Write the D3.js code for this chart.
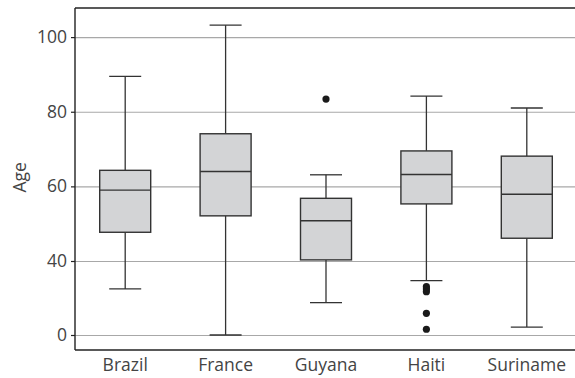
<!DOCTYPE html>
<html>
<head>
<meta charset="utf-8">
<script src="https://cdn.jsdelivr.net/npm/d3@7"></script>
<style>
  body { margin: 0; background: #fff; }
  svg { display: block; }
  svg text { font-family: "Open Sans", "Noto Sans", sans-serif; }
</style>
</head>
<body>
<script>
// box summary
const countries = ["Brazil", "France", "Guyana", "Haiti", "Suriname"];
const whiskerLow = [24.9, 0, 17.5, 29.4, 4.3];
const boxLow = [47.7, 52.1, 40.3, 55.3, 46.1];
const medians = [59.0, 64.0, 50.8, 63.2, 57.9];
const boxHigh = [64.3, 74.1, 56.8, 69.5, 68.1];
const whiskerHigh = [89.5, 103.2, 63.1, 84.2, 81.0];
const outliers = [[], [], [83.4], [26.1, 24.8, 23.4, 11.7, 3.1], []];
const yTicks = [0, 40, 60, 80, 100];

const W = 575, H = 378;
const margin = {top: 8, right: -2, bottom: 28, left: 75};
const width = W - margin.left - margin.right,
  height = H - margin.top - margin.bottom;

const svg = d3.select("body").append("svg")
  .attr("width", W)
  .attr("height", H);
const g = svg.append("g")
  .attr("transform", "translate(" + margin.left + "," + margin.top + ")");

let x = d3.scaleBand().domain(countries).range([0, width]);
// axis in the reference is not linear below 40, so use a two-piece scale
let y = d3.scaleLinear().domain([0, 40, 107.8]).range([327, 253, 0]);

// grid lines
g.append("g")
  .attr("class", "grid")
  .call(d3.axisLeft(y).tickValues(yTicks).tickSize(-width).tickFormat(""))
  .call(s => s.select(".domain").remove())
  .selectAll("line")
  .attr("stroke", "#a8a8a8")
  .attr("stroke-width", 1.2);

// frame lines: top and bottom
g.append("line").attr("x1", 0).attr("x2", width).attr("y1", 0).attr("y2", 0)
  .attr("stroke", "#222").attr("stroke-width", 1.4);
g.append("line").attr("x1", 0).attr("x2", width).attr("y1", height).attr("y2", height)
  .attr("stroke", "#222").attr("stroke-width", 1.4);

// y axis
let yAxis = g.append("g")
  .call(d3.axisLeft(y).tickValues(yTicks).tickSize(4).tickPadding(4).tickSizeOuter(0))
  .attr("font-family", null);
yAxis.select(".domain").attr("d", "M0,0V" + height).attr("stroke", "#222").attr("stroke-width", 1.4);
yAxis.selectAll(".tick line").attr("stroke", "#222").attr("stroke-width", 1.2);
yAxis.selectAll("text").attr("font-size", 17.5).attr("fill", "#444");

// x axis labels
let xAxis = g.append("g")
  .attr("transform", "translate(0," + height + ")")
  .call(d3.axisBottom(x).tickSize(0).tickPadding(9))
  .attr("font-family", null);
xAxis.select(".domain").remove();
xAxis.selectAll("text").attr("font-size", 17.5).attr("fill", "#444");

g.append("text")
  .attr("transform", "rotate(-90)")
  .attr("x", -(y(60) - 9))
  .attr("y", -49)
  .attr("text-anchor", "middle")
  .attr("font-size", 17.5)
  .attr("fill", "#444")
  .text("Age");

const boxW = 51, capW = 32;
const boxes = g.selectAll("g.box")
  .data(countries)
  .join("g")
  .attr("class", "box")
  .attr("transform", d => "translate(" + (x(d) + x.bandwidth() / 2) + ",0)");

boxes.append("line")
  .attr("y1", (d, i) => y(whiskerLow[i]))
  .attr("y2", (d, i) => y(boxLow[i]))
  .attr("stroke", "#333").attr("stroke-width", 1.3);
boxes.append("line")
  .attr("y1", (d, i) => y(boxHigh[i]))
  .attr("y2", (d, i) => y(whiskerHigh[i]))
  .attr("stroke", "#333").attr("stroke-width", 1.3);
boxes.append("line")
  .attr("x1", -capW / 2).attr("x2", capW / 2)
  .attr("y1", (d, i) => y(whiskerLow[i])).attr("y2", (d, i) => y(whiskerLow[i]))
  .attr("stroke", "#333").attr("stroke-width", 1.3);
boxes.append("line")
  .attr("x1", -capW / 2).attr("x2", capW / 2)
  .attr("y1", (d, i) => y(whiskerHigh[i])).attr("y2", (d, i) => y(whiskerHigh[i]))
  .attr("stroke", "#333").attr("stroke-width", 1.3);
boxes.append("rect")
  .attr("x", -boxW / 2)
  .attr("width", boxW)
  .attr("y", (d, i) => y(boxHigh[i]))
  .attr("height", (d, i) => y(boxLow[i]) - y(boxHigh[i]))
  .attr("fill", "#d3d4d6")
  .attr("stroke", "#333").attr("stroke-width", 1.4);
boxes.append("line")
  .attr("x1", -boxW / 2).attr("x2", boxW / 2)
  .attr("y1", (d, i) => y(medians[i])).attr("y2", (d, i) => y(medians[i]))
  .attr("stroke", "#333").attr("stroke-width", 1.4);
boxes.each(function (d, i) {
  d3.select(this).selectAll("circle")
    .data(outliers[i])
    .join("circle")
    .attr("cy", v => y(v))
    .attr("r", 3.6)
    .attr("fill", "#1a1a1a");
});
</script>
</body>
</html>
